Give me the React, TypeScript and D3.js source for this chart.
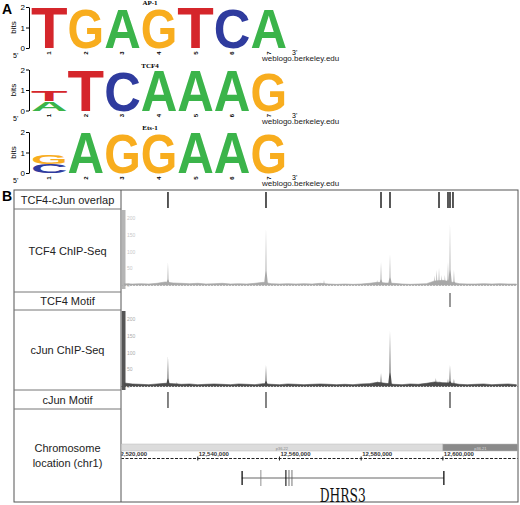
import React, { useEffect, useRef } from "react";
import * as d3 from "d3";

// ---- panel A: sequence logos (letter, bits), stacked bottom to top
const logoTitles = ["AP-1", "TCF4", "Ets-1"];
const ap1Columns = [
  [["T", 2.0]],
  [["G", 1.96]],
  [["A", 1.96]],
  [["G", 1.96]],
  [["T", 2.0]],
  [["C", 1.96]],
  [["A", 1.92]],
];
const tcf4Columns = [
  [["A", 0.45], ["T", 0.5]],
  [["T", 2.0]],
  [["C", 1.98]],
  [["A", 2.0]],
  [["A", 2.0]],
  [["A", 2.0]],
  [["G", 1.86]],
];
const ets1Columns = [
  [["C", 0.45], ["G", 0.45]],
  [["A", 2.0]],
  [["G", 1.98]],
  [["G", 1.98]],
  [["A", 2.0]],
  [["A", 2.0]],
  [["G", 1.92]],
];
const logoPositions = [1, 2, 3, 4, 5, 6, 7];
const bitTicks = [0, 1, 2];
const letterColors: Record<string, string> = {
  A: "#3bb44a",
  C: "#2f3b9e",
  G: "#f8ad1e",
  T: "#d5262b",
};

// ---- panel B: genome browser tracks (chr1)
const trackLabels = [
  ["TCF4-cJun overlap"],
  ["TCF4 ChIP-Seq"],
  ["TCF4 Motif"],
  ["cJun ChIP-Seq"],
  ["cJun Motif"],
  ["Chromosome", "location (chr1)"],
];
const overlapSites = [12532700, 12556700, 12584860, 12587060, 12599060, 12601260, 12601750, 12602480];
const tcf4MotifSites = [12601750];
const cjunMotifSites = [12532700, 12556700, 12601750];

// background coverage in 2 kb bins starting at 12,522,000
const binStart = 12522000;
const binSize = 2000;
const tcf4Background = [
  4, 3, 4, 3, 5, 9, 6, 5, 4, 5, 3, 4, 5, 3, 4, 3, 5, 8, 4, 3, 4, 3, 4, 3, 5,
  3, 2, 3, 2, 3, 5, 8, 6, 5, 3, 2, 3, 4, 12, 14, 9, 4, 3, 3, 4, 3, 4, 3, 3,
];
const cjunBackground = [
  9, 6, 5, 4, 6, 8, 7, 5, 6, 4, 5, 6, 5, 4, 6, 5, 4, 7, 5, 4, 6, 5, 4, 5, 6,
  5, 4, 5, 4, 6, 7, 11, 8, 5, 4, 6, 5, 8, 12, 10, 9, 5, 4, 5, 6, 4, 5, 6, 4,
];
const tcf4Peaks: [number, number][] = [
  [12532700, 69], [12556700, 171], [12570900, 15], [12583900, 15],
  [12584860, 69], [12587060, 93], [12597900, 28], [12598500, 45],
  [12599060, 51], [12599700, 30], [12600500, 30], [12601260, 69],
  [12601750, 186], [12602720, 45],
];
const cjunPeaks: [number, number][] = [
  [12532700, 90], [12534900, 12], [12556700, 63], [12583900, 14],
  [12584860, 39], [12587060, 165], [12598300, 24], [12599300, 15],
  [12601260, 22], [12601750, 63], [12602720, 22],
];
const signalTicks = [0, 50, 100, 150, 200];
const rulerTicks = [12520000, 12540000, 12560000, 12580000, 12600000];
const bands = [
  { name: "p36.22", start: 12400000, end: 12600000, fill: "#dcdcdc", text: "#888" },
  { name: "p36.21", start: 12600000, end: 12700000, fill: "#8a8a8a", text: "#ddd" },
];
const geneName = "DHRS3";
const geneStart = 12550770;
const geneEnd = 12600220;
const geneExons = [
  [12550700, 12551000, "#000"],
  [12555350, 12555500, "#777"],
  [12561450, 12561700, "#000"],
  [12562230, 12562330, "#555"],
  [12562960, 12563060, "#555"],
  [12600100, 12600400, "#000"],
];

const SANS = "'Liberation Sans', Arial, sans-serif";
const SERIF = "'Liberation Serif', 'Times New Roman', serif";

function App() {
  const ref = useRef<SVGSVGElement>(null);

  useEffect(() => {
    const svg = d3.select(ref.current);
    svg.selectAll("*").remove();
    drawLogos(svg);
    drawTracks(svg);
  }, []);

  function drawLogos(svg: any) {
    svg.append("text").text("A").attr("x", 2).attr("y", 14)
      .attr("font-family", SANS).attr("font-weight", "bold").attr("font-size", 14);

    const logos = [ap1Columns, tcf4Columns, ets1Columns];
    const x = d3.scaleBand<number>().domain(logoPositions).range([31, 287]).padding(0);

    logos.forEach((columns, li) => {
      const y0 = 48 + li * 62.5;
      const y = d3.scaleLinear().domain([0, 2]).range([y0, y0 - 41]);
      const g = svg.append("g");

      const axis = g.append("g").attr("transform", "translate(29,0)")
        .call(d3.axisLeft(y).tickValues(bitTicks).tickSize(3).tickSizeOuter(0).tickFormat(d3.format("d")));
      axis.selectAll("text").attr("font-size", 8).attr("font-family", SANS).attr("x", -4).attr("dy", "0.35em");
      axis.select(".domain").attr("stroke", "#000");

      g.append("text").text("bits")
        .attr("transform", `translate(16,${y(1)}) rotate(-90)`)
        .attr("text-anchor", "middle").attr("font-size", 8).attr("font-family", SANS);

      g.append("text").text(logoTitles[li]).attr("x", 150).attr("y", y0 - 43)
        .attr("text-anchor", "middle").attr("font-size", 7).attr("font-weight", "bold").attr("font-family", SERIF);

      columns.forEach((col, ci) => {
        let base = 0;
        const x0 = x(logoPositions[ci]) as number;
        (col as [string, number][]).forEach(([letter, bits]) => {
          const yb = y(base);
          const yt = y(base + bits);
          g.append("text").text(letter)
            .attr("x", 0).attr("y", 0)
            .attr("font-size", 100).attr("font-weight", "bold").attr("font-family", SANS)
            .attr("textLength", 100).attr("lengthAdjust", "spacingAndGlyphs")
            .attr("fill", letterColors[letter])
            .attr("transform", `translate(${x0},${yb}) scale(${x.bandwidth() / 100},${(yb - yt) / 72})`);
          base += bits;
        });
        g.append("text").text(String(logoPositions[ci]))
          .attr("transform", `translate(${x0 + x.bandwidth() / 2 + 2},${y0 + 5}) rotate(-90)`)
          .attr("text-anchor", "middle").attr("font-size", 6).attr("font-weight", "bold").attr("font-family", SANS);
      });

      g.append("text").text("5'").attr("x", 13).attr("y", y0 + 10).attr("font-size", 7).attr("font-family", SANS);
      g.append("text").text("3'").attr("x", 292).attr("y", y0 + 7).attr("font-size", 7).attr("font-family", SANS);
      g.append("text").text("weblogo.berkeley.edu").attr("x", 262).attr("y", y0 + 13)
        .attr("font-size", 8).attr("font-family", SANS).attr("fill", "#222");
    });
  }

  function drawTracks(svg: any) {
    svg.append("text").text("B").attr("x", 2).attr("y", 201)
      .attr("font-family", SANS).attr("font-weight", "bold").attr("font-size", 14);

    const left = 14, mid = 121, right = 518, top = 190, bottom = 502;
    const rowEdges = [190, 209, 292, 310, 390, 409, 502];

    const xg = d3.scaleLinear().domain([12521200, 12618400]).range([mid, right]);

    // table frame
    svg.append("rect").attr("x", left).attr("y", top).attr("width", right - left).attr("height", bottom - top)
      .attr("fill", "none").attr("stroke", "#555");
    svg.append("line").attr("x1", mid).attr("x2", mid).attr("y1", top).attr("y2", bottom).attr("stroke", "#555");
    rowEdges.slice(1, -1).forEach((ry) => {
      svg.append("line").attr("x1", left).attr("x2", mid).attr("y1", ry).attr("y2", ry).attr("stroke", "#777");
    });
    trackLabels.forEach((lines, i) => {
      const cy = (rowEdges[i] + rowEdges[i + 1]) / 2;
      lines.forEach((t, k) => {
        svg.append("text").text(t).attr("x", (left + mid) / 2)
          .attr("y", cy + 4 + (k - (lines.length - 1) / 2) * 15)
          .attr("text-anchor", "middle").attr("font-size", 11).attr("font-family", SANS).attr("fill", "#222");
      });
    });

    svg.append("clipPath").attr("id", "panel").append("rect")
      .attr("x", mid + 0.5).attr("y", top).attr("width", right - mid - 1).attr("height", bottom - top);
    const p = svg.append("g").attr("clip-path", "url(#panel)");

    // site marks
    const marks = (sites: number[], y1: number, y2: number, color: string, w: number) => {
      p.selectAll(null).data(sites).enter().append("line")
        .attr("x1", (d: number) => xg(d)).attr("x2", (d: number) => xg(d))
        .attr("y1", y1).attr("y2", y2).attr("stroke", color).attr("stroke-width", w);
    };
    marks(overlapSites, 192, 208, "#111", 1.4);
    marks(tcf4MotifSites, 293, 307, "#999", 2);
    marks(cjunMotifSites, 392, 408, "#666", 1.6);

    // ChIP-seq signal tracks
    const signal = (bg: number[], peaks: [number, number][], yTop: number, yBase: number, color: string, barColor: string, tickColor: string) => {
      const y = d3.scaleLinear().domain([0, 200]).range([yBase, yBase - 67]);
      p.append("rect").attr("x", mid + 0.5).attr("y", yTop).attr("width", 4).attr("height", yBase + 4 - yTop).attr("fill", barColor);
      signalTicks.forEach((t) => {
        p.append("text").text(String(t)).attr("x", mid + 6).attr("y", y(t) + 2)
          .attr("font-size", 5).attr("font-family", SANS).attr("fill", tickColor);
      });
      const area = d3.area<number>()
        .x((_, i) => xg(binStart + i * binSize))
        .y0(yBase).y1((d) => y(d));
      p.append("path").datum(bg).attr("d", area).attr("fill", color).attr("stroke", color).attr("stroke-width", 0.6);
      p.selectAll(null).data(peaks).enter().append("path")
        .attr("d", (d: [number, number]) => {
          const cx = xg(d[0]);
          return `M${cx - 2},${yBase}L${cx - 0.5},${y(d[1] * 0.25)}L${cx},${y(d[1])}L${cx + 0.5},${y(d[1] * 0.25)}L${cx + 2},${yBase}Z`;
        })
        .attr("fill", color);
      p.append("line").attr("x1", mid).attr("x2", right).attr("y1", yBase + 0.5).attr("y2", yBase + 0.5)
        .attr("stroke", color).attr("stroke-width", 0.8).attr("stroke-dasharray", "2,1");
    };
    signal(tcf4Background, tcf4Peaks, 210, 285, "#a8a8a8", "#b5b5b5", "#c8c8c8");
    signal(cjunBackground, cjunPeaks, 311, 386, "#4d4d4d", "#555", "#aaa");

    // ideogram
    bands.forEach((b) => {
      p.append("rect").attr("x", xg(b.start)).attr("y", 444).attr("width", xg(b.end) - xg(b.start)).attr("height", 7)
        .attr("fill", b.fill).attr("stroke", "#bbb").attr("stroke-width", 0.5);
      const cx = (Math.max(xg(b.start), mid) + Math.min(xg(b.end), right)) / 2;
      p.append("text").text(b.name).attr("x", cx).attr("y", 449.5).attr("text-anchor", "middle")
        .attr("font-size", 4).attr("font-family", SANS).attr("fill", b.text);
    });

    // ruler
    p.append("line").attr("x1", mid).attr("x2", right).attr("y1", 458.5).attr("y2", 458.5)
      .attr("stroke", "#222").attr("stroke-dasharray", "3,1.5");
    rulerTicks.forEach((t) => {
      p.append("line").attr("x1", xg(t)).attr("x2", xg(t)).attr("y1", 456.5).attr("y2", 460.5).attr("stroke", "#222");
      p.append("text").text(d3.format(",")(t)).attr("x", xg(t) + 1).attr("y", 456)
        .attr("font-size", 6).attr("font-weight", "bold").attr("font-family", SANS).attr("fill", "#333");
    });

    // gene model
    p.append("line").attr("x1", xg(geneStart)).attr("x2", xg(geneEnd)).attr("y1", 478).attr("y2", 478)
      .attr("stroke", "#666").attr("stroke-width", 1);
    geneExons.forEach(([s, e, c], i) => {
      const cap = i === 0 || i === geneExons.length - 1;
      p.append("rect").attr("x", xg(s as number)).attr("y", cap ? 471 : 470)
        .attr("width", Math.max(xg(e as number) - xg(s as number), 0.8)).attr("height", cap ? 14 : 16)
        .attr("fill", c as string);
    });
    p.append("text").text(geneName).attr("x", (xg(geneStart) + xg(geneEnd)) / 2).attr("y", 502)
      .attr("text-anchor", "middle").attr("font-size", 19).attr("font-family", "'DejaVu Serif', serif")
      .attr("textLength", 46).attr("lengthAdjust", "spacingAndGlyphs")
      .attr("fill", "#111");
  }

  return (
    <svg ref={ref} width={520} height={505} style={{ position: "absolute", left: 0, top: 0, background: "#fff" }} />
  );
}

export default App;
